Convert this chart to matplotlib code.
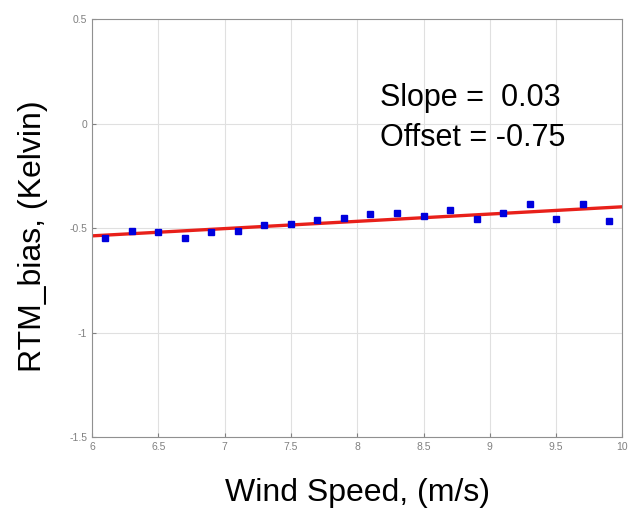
import numpy as np
import matplotlib.pyplot as plt

plt.rcParams['font.family'] = ['Liberation Sans', 'DejaVu Sans']

# wind speed bins and mean RTM bias
wind_speed = [6.1, 6.3, 6.5, 6.7, 6.9, 7.1, 7.3, 7.5, 7.7, 7.9,
              8.1, 8.3, 8.5, 8.7, 8.9, 9.1, 9.3, 9.5, 9.7, 9.9]
rtm_bias = [-0.549, -0.514, -0.521, -0.546, -0.521, -0.514, -0.486, -0.482, -0.463, -0.453,
            -0.434, -0.428, -0.441, -0.415, -0.457, -0.428, -0.384, -0.457, -0.387, -0.466]

# linear fit shown on the chart
slope = 0.0348
offset = -0.746
fit_x = [6, 10]

fig, ax = plt.subplots(figsize=(6.3, 5.19), dpi=100)
fig.subplots_adjust(left=0.146, right=0.988, top=0.963, bottom=0.158)

ax.plot(wind_speed, rtm_bias, 's', color='#0000dd', markersize=4.2, zorder=3)
ax.plot(fit_x, [slope * x + offset for x in fit_x], color='#e8201a', linewidth=2.4, zorder=2)

ax.set_xlim(6, 10)
ax.set_ylim(-1.5, 0.5)
ax.set_xticks([6, 6.5, 7, 7.5, 8, 8.5, 9, 9.5, 10])
ax.set_xticklabels(['6', '6.5', '7', '7.5', '8', '8.5', '9', '9.5', '10'])
ax.set_yticks([-1.5, -1, -0.5, 0, 0.5])
ax.set_yticklabels(['-1.5', '-1', '-0.5', '0', '0.5'])
ax.grid(True, color='#e0e0e0', linewidth=0.8)
ax.set_axisbelow(True)
for s in ax.spines.values():
    s.set_color('#909090')
ax.tick_params(labelsize=7.5, colors='#808080', length=3, direction='in')

ax.text(8.17, 0.085, 'Slope =  %.2f' % slope, fontsize=22)
ax.text(8.17, -0.105, 'Offset = %.2f' % offset, fontsize=22)

ax.set_xlabel('Wind Speed, (m/s)', fontsize=23, labelpad=19)
ax.set_ylabel('RTM_bias, (Kelvin)', fontsize=23)
ax.yaxis.set_label_coords(-0.083, 0.481)

plt.savefig('out.png')
